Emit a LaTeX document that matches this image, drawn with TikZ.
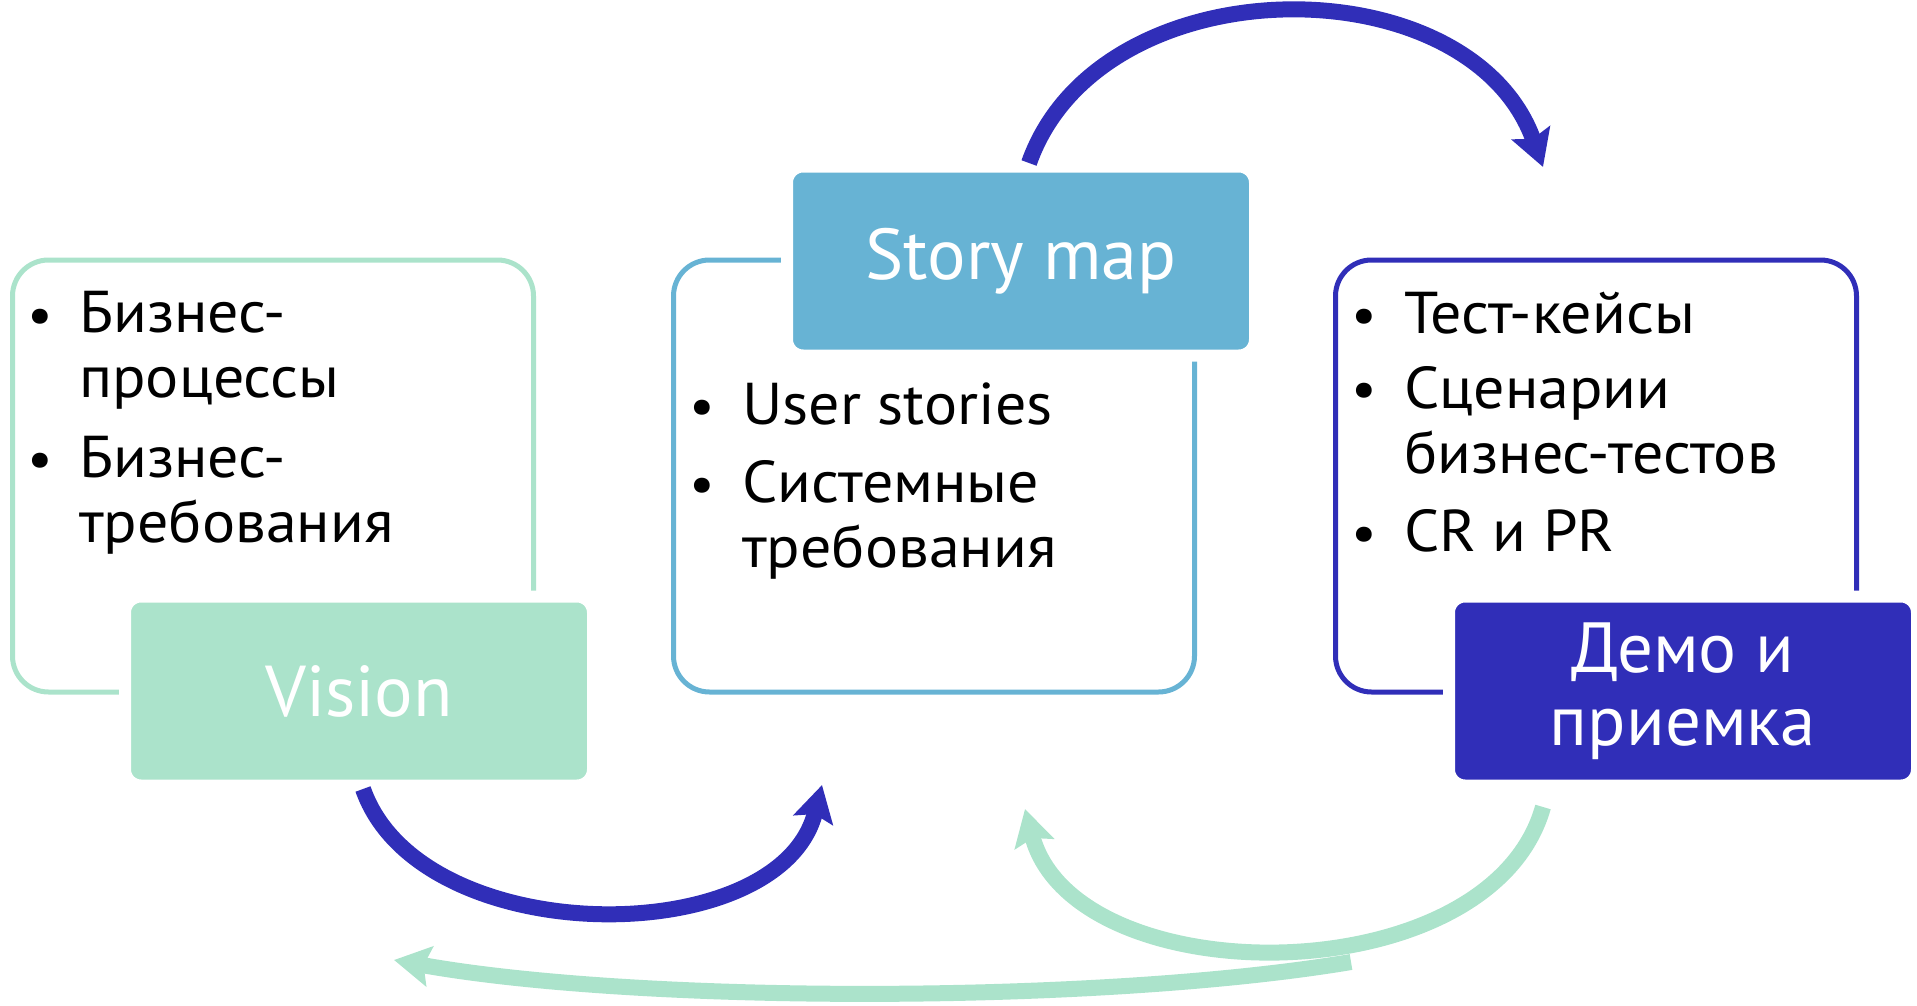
\documentclass[tikz,border=0pt]{standalone}
\usepackage{fontspec}
\setmainfont{PT Sans}
\newfontfamily\bodyfont{PT Sans}[FakeStretch=1.05]
\usetikzlibrary{arrows.meta}
\definecolor{mint}{HTML}{ABE3CB}
\definecolor{sky}{HTML}{67B3D4}
\definecolor{indigo}{HTML}{302EB8}
\begin{document}
\begin{tikzpicture}[x=1pt,y=-1pt,
  outline/.style={draw=#1, line width=5pt, rounded corners=36pt, minimum width=521pt, minimum height=432pt, inner sep=0pt},
  tagbox/.style={fill=#1, draw=white, line width=12pt, rounded corners=16pt, minimum width=468pt, minimum height=189pt, text=white, align=center, inner sep=0pt},
  item/.style={anchor=base west, align=left, inner sep=0pt, font=\bodyfont\fontsize{59}{65}\selectfont},
  dot/.style={anchor=base, inner sep=0pt, font=\bodyfont\fontsize{54}{65}\selectfont},
  flow/.style={draw=#1, line width=16pt, -{Stealth[length=36pt,width=40pt,inset=6pt]}}]
\useasboundingbox (0,0) rectangle (1917,1006);

% outlines
\node[outline=mint] (lo) at (273,476) {};
\node[outline=sky] (mo) at (934,476) {};
\node[outline=indigo] (ro) at (1596,476) {};

% tag boxes
\node[tagbox=mint, font=\fontsize{72}{80}\selectfont] (vision) at (359,691) {Vision};
\node[tagbox=sky, font=\fontsize{72}{80}\selectfont] (story) at (1021,261) {Story map};
\node[tagbox=indigo, font=\fontsize{71}{73}\selectfont] (demo) at (1683,691) {Демо и\\приемка};

% left list
\node[dot] (lb1) at (40,333) {•};
\node[item] (li1) at (79,397) {Бизнес-\\процессы};
\node[dot] (lb2) at (40,477) {•};
\node[item] (li2) at (79,542) {Бизнес-\\требования};

% middle list
\node[dot] (mb1) at (702,424) {•};
\node[item] (mi1) at (742,424) {User stories};
\node[dot] (mb2) at (702,502) {•};
\node[item] (mi2) at (742,567) {Системные\\требования};

% right list
\node[dot] (rb1) at (1364,333) {•};
\node[item] (ri1) at (1404,333) {Тест-кейсы};
\node[dot] (rb2) at (1364,407) {•};
\node[item] (ri2) at (1404,473) {Сценарии\\бизнес-тестов};
\node[dot] (rb3) at (1364,551) {•};
\node[item] (ri3) at (1404,551) {CR и PR};

% arrow end points
\coordinate (a1s) at (1029,163);
\coordinate (a1e) at (1543,167);
\coordinate (a2s) at (363,789);
\coordinate (a2e) at (822,785);
\coordinate (a3s) at (1543,807);
\coordinate (a3e) at (1025,809);
\coordinate (a4s) at (1351,962);
\coordinate (a4e) at (394,960);

\draw[flow=indigo] (a1s) .. controls (1100,-38) and (1470,-38) .. (a1e);
\draw[flow=indigo] (a2s) .. controls (420,952) and (780,952) .. (a2e);
\draw[flow=mint] (a3s) .. controls (1490,996) and (1075,996) .. (a3e);
\draw[flow=mint] (a4s) .. controls (1100,1004) and (640,1004) .. (a4e);
\end{tikzpicture}
\end{document}
